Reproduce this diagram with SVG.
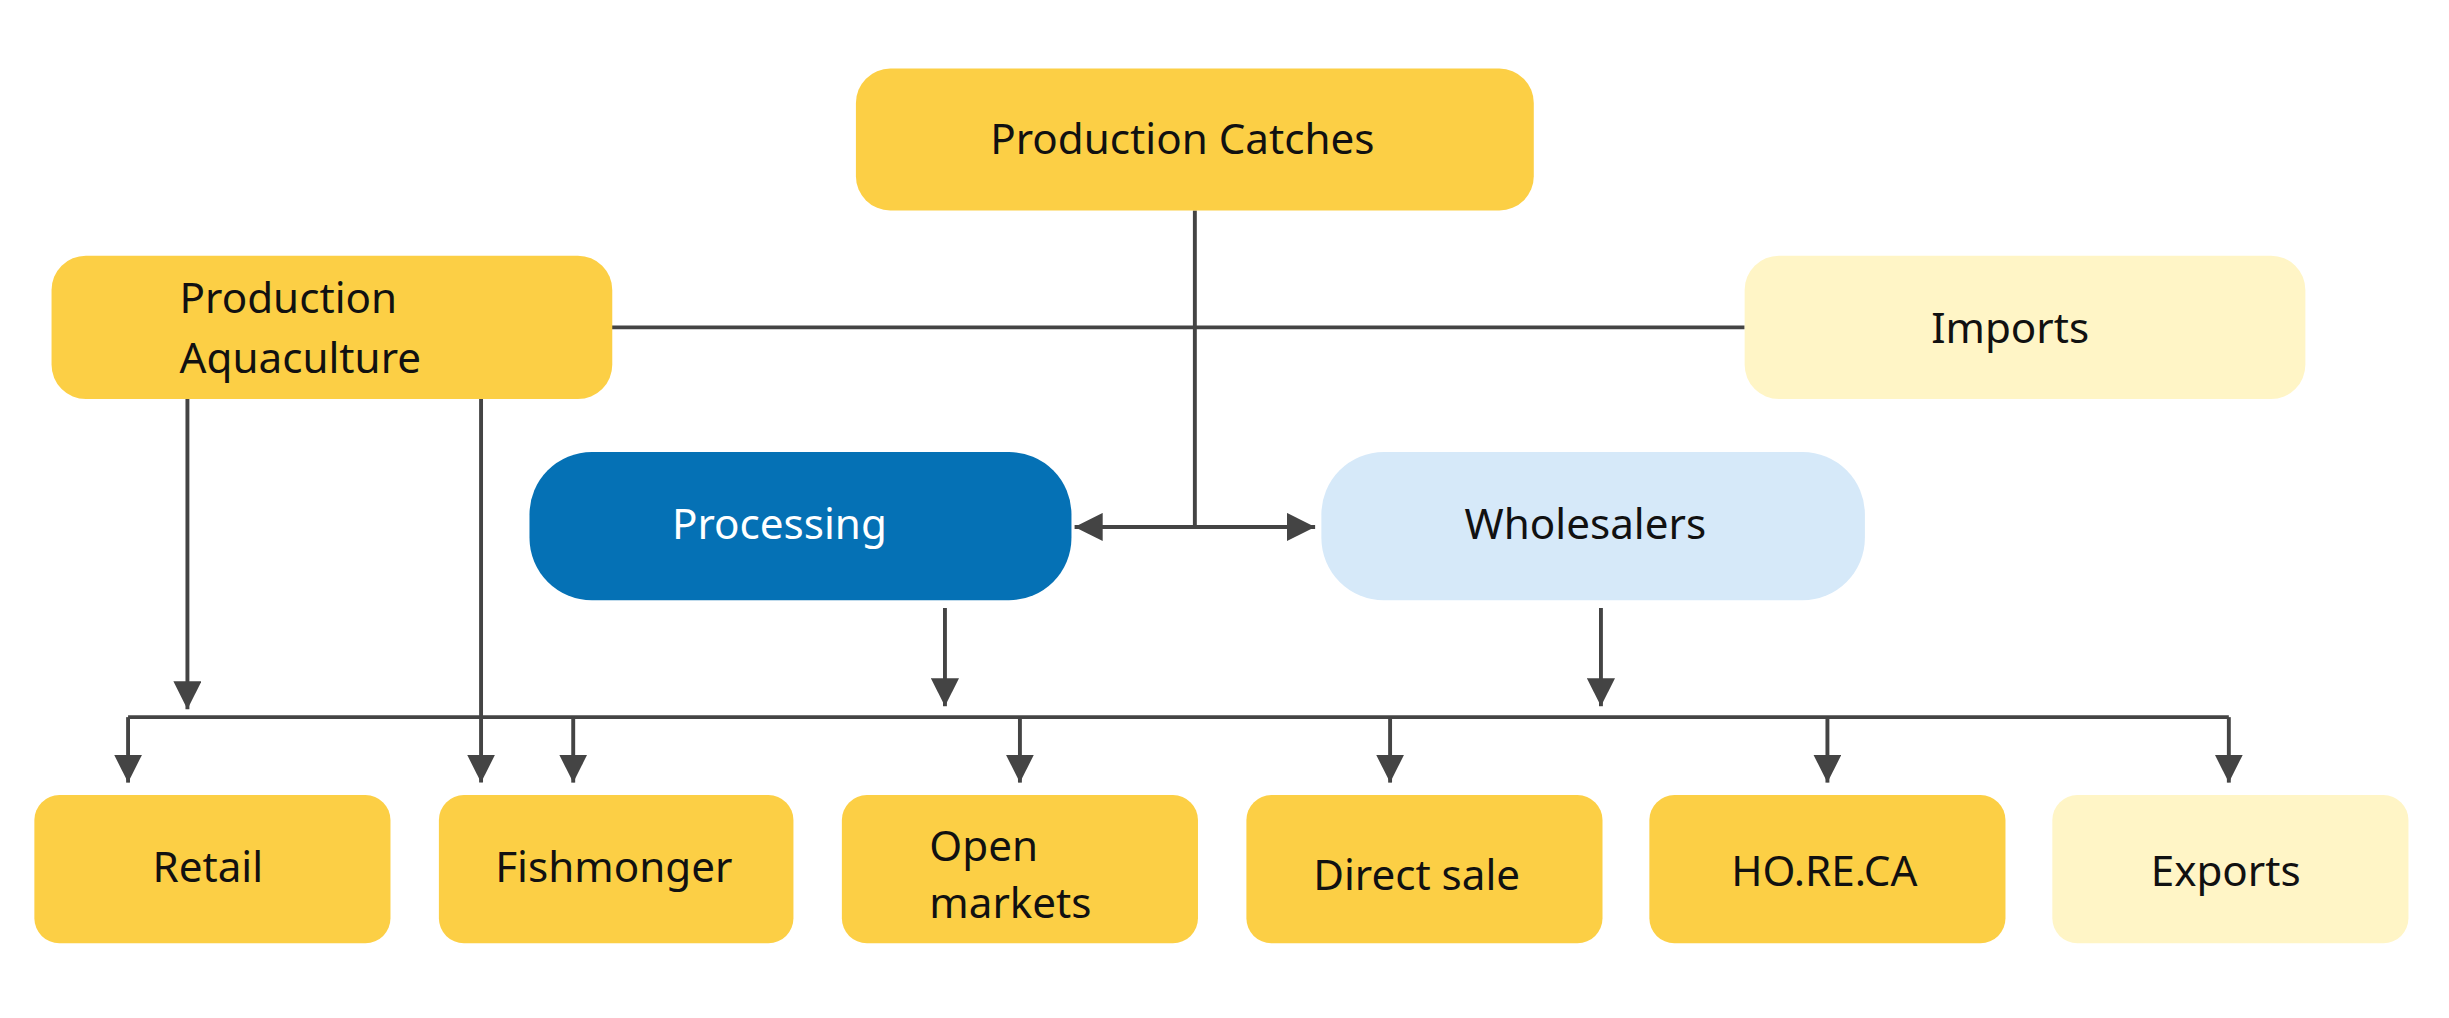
<svg xmlns="http://www.w3.org/2000/svg" width="2449" height="1018" viewBox="0 0 2449 1018">
<style>
.y{fill:#FCCF45}.l{fill:#FFF5C6}
text{font-family:"Noto Sans","Liberation Sans",sans-serif;font-size:27px;fill:#111}
.c{stroke:#444;stroke-width:2.5;fill:none}
</style>
<defs>
<marker id="a" markerUnits="userSpaceOnUse" markerWidth="20" markerHeight="18" refX="18" refY="9" orient="auto"><path d="M0,0 L18,9 L0,18 Z" fill="#444"/></marker>
<marker id="s" markerUnits="userSpaceOnUse" markerWidth="20" markerHeight="18" refX="0" refY="9" orient="auto"><path d="M18,0 L0,9 L18,18 Z" fill="#444"/></marker>
</defs>
<rect width="2449" height="1018" fill="#fff"/>
<g transform="scale(1.5619 1.559)">
<g id="connectors" class="c">
<path d="M390,210 H1117"/>
<path d="M765,135 V338"/>
<path d="M688,338 H842" marker-start="url(#s)" marker-end="url(#a)"/>
<path d="M120,256 V455" marker-end="url(#a)"/>
<path d="M308,256 V502" marker-end="url(#a)"/>
<path d="M605,390 V453" marker-end="url(#a)"/>
<path d="M1025,390 V453" marker-end="url(#a)"/>
<path d="M82,460 H1427"/>
<path d="M82,460 V502" marker-end="url(#a)"/>
<path d="M367,460 V502" marker-end="url(#a)"/>
<path d="M653,460 V502" marker-end="url(#a)"/>
<path d="M890,460 V502" marker-end="url(#a)"/>
<path d="M1170,460 V502" marker-end="url(#a)"/>
<path d="M1427,460 V502" marker-end="url(#a)"/>
</g>
<g id="catches"><rect class="y" x="548" y="44" width="434" height="91" rx="22"/><text x="757" y="99" text-anchor="middle">Production Catches</text></g>
<g id="aquaculture"><rect class="y" x="33" y="164" width="359" height="92" rx="22"/><text x="115" y="201">Production</text><text x="115" y="239">Aquaculture</text></g>
<g id="imports"><rect class="l" x="1117" y="164" width="359" height="92" rx="22"/><text x="1287" y="220" text-anchor="middle">Imports</text></g>
<g id="processing"><rect x="339" y="290" width="347" height="95" rx="40" fill="#0571B5"/><text x="499" y="346" text-anchor="middle" style="fill:#fff">Processing</text></g>
<g id="wholesalers"><rect x="846" y="290" width="348" height="95" rx="40" fill="#D6E9F9"/><text x="1015" y="346" text-anchor="middle">Wholesalers</text></g>
<g id="retail"><rect class="y" x="22" y="510" width="228" height="95" rx="16"/><text x="133" y="566" text-anchor="middle">Retail</text></g>
<g id="fishmonger"><rect class="y" x="281" y="510" width="227" height="95" rx="16"/><text x="393" y="566" text-anchor="middle">Fishmonger</text></g>
<g id="openmarkets"><rect class="y" x="539" y="510" width="228" height="95" rx="16"/><text x="595" y="552">Open</text><text x="595" y="589">markets</text></g>
<g id="directsale"><rect class="y" x="798" y="510" width="228" height="95" rx="16"/><text x="907" y="571" text-anchor="middle">Direct sale</text></g>
<g id="horeca"><rect class="y" x="1056" y="510" width="228" height="95" rx="16"/><text x="1168" y="568" text-anchor="middle">HO.RE.CA</text></g>
<g id="exports"><rect class="l" x="1314" y="510" width="228" height="95" rx="16"/><text x="1425" y="568" text-anchor="middle">Exports</text></g>
</g>
</svg>
